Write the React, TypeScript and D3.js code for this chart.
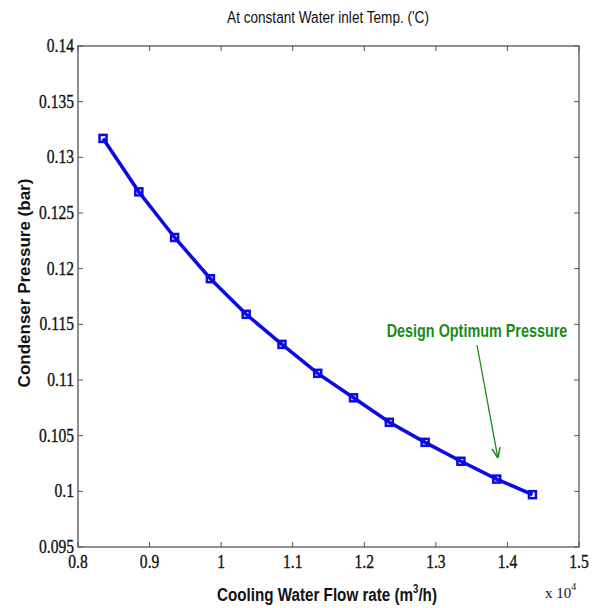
import * as d3 from "d3"

// cooling water flow rate (x 10^4 m3/h)
const flowRate = [0.835, 0.885, 0.935, 0.985, 1.035, 1.085, 1.135, 1.185, 1.235, 1.285, 1.335, 1.385, 1.435]
// condenser pressure (bar)
const pressure = [0.1317, 0.1269, 0.1228, 0.1191, 0.1159, 0.1132, 0.1106, 0.1084, 0.1062, 0.1044, 0.1027, 0.1011, 0.0997]
const xTicks = [0.8, 0.9, 1, 1.1, 1.2, 1.3, 1.4, 1.5]
const yTicks = [0.095, 0.1, 0.105, 0.11, 0.115, 0.12, 0.125, 0.13, 0.135, 0.14]
const designIndex = 11

const W = 599
const H = 608
const margin = { left: 78, right: 20, top: 46, bottom: 61 }

const sans = "Liberation Sans, Arial, sans-serif"
const serif = "Liberation Serif"
const green = "#1a8a1a"
const blue = "#0a0ae6"

// squeezed text to imitate the narrow font of the original
const Narrow = ({ x, y, k = 0.8, anchor = "middle", font = sans, children, ...rest }: any) => (
    <g transform={`translate(${x},${y}) scale(${k},1)`}>
        <text x={0} y={0} textAnchor={anchor} fontFamily={font} {...rest}>{children}</text>
    </g>
)

const App = () => {
    const x = d3.scaleLinear().domain([0.8, 1.5]).range([margin.left, W - margin.right])
    const y = d3.scaleLinear().domain([0.095, 0.14]).range([H - margin.bottom, margin.top])
    const line = d3.line<number>().x((_, i) => x(flowRate[i])).y(d => y(d))
    const x0 = x(0.8), x1 = x(1.5), y0 = y(0.095), y1 = y(0.14)
    const tick = 5
    const dx = x(flowRate[designIndex]), dy = y(pressure[designIndex])

    return (
        <svg width={W} height={H} style={{ position: "absolute", left: 0, top: 0, background: "#fff" }}>
            <defs>
                <marker id="arr" viewBox="0 0 10 10" refX="9" refY="5" markerWidth="8" markerHeight="10" orient="auto">
                    <path d="M0,1 L10,5 L0,9" fill="none" stroke={green} strokeWidth="1.5" />
                </marker>
            </defs>
            <Narrow x={328} y={23} k={0.8} fontSize={17} fill="#111">
                At constant Water inlet Temp. ('C)
            </Narrow>
            <rect x={x0} y={y1} width={x1 - x0} height={y0 - y1} fill="none" stroke="#555" strokeWidth={1.3} />
            {xTicks.map(t => (
                <g key={"x" + t}>
                    <line x1={x(t)} x2={x(t)} y1={y0} y2={y0 - tick} stroke="#555" />
                    <line x1={x(t)} x2={x(t)} y1={y1} y2={y1 + tick} stroke="#555" />
                    <Narrow x={x(t)} y={y0 + 21} k={0.82} font={serif} fontSize={19} fill="#111"
                        stroke="#111" strokeWidth={0.35}>{String(t)}</Narrow>
                </g>
            ))}
            {yTicks.map(t => (
                <g key={"y" + t}>
                    <line x1={x0} x2={x0 + tick} y1={y(t)} y2={y(t)} stroke="#555" />
                    <line x1={x1} x2={x1 - tick} y1={y(t)} y2={y(t)} stroke="#555" />
                    <Narrow x={x0 - 4} y={y(t) + 6} k={0.82} anchor="end" font={serif} fontSize={19} fill="#111"
                        stroke="#111" strokeWidth={0.35}>{String(t)}</Narrow>
                </g>
            ))}
            <text x={545} y={598} fontFamily={serif} fontSize={15} fill="#111">
                x 10<tspan dy={-8} fontSize={10}>4</tspan>
            </text>
            <Narrow x={327} y={601} k={0.8} fontWeight="bold" fontSize={19} fill="#111">
                Cooling Water Flow rate (m<tspan dy={-8} fontSize={12}>3</tspan><tspan dy={8}>/h)</tspan>
            </Narrow>
            <text transform={`translate(30,283) rotate(-90)`} textAnchor="middle"
                fontFamily={sans} fontWeight="bold" fontSize={17} fill="#111">
                Condenser Pressure (bar)
            </text>
            <path d={line(pressure) ?? ""} fill="none" stroke={blue} strokeWidth={3.5} />
            {pressure.map((p, i) => (
                <rect key={i} x={x(flowRate[i]) - 3.5} y={y(p) - 3.5} width={7} height={7}
                    fill="none" stroke={blue} strokeWidth={2.5} />
            ))}
            <Narrow x={477} y={337} k={0.8} fontWeight="bold" fontSize={18} fill={green}>
                Design Optimum Pressure
            </Narrow>
            <line x1={477} y1={345} x2={dx + 1} y2={dy - 22} stroke={green} strokeWidth={1.3} markerEnd="url(#arr)" />
        </svg>
    )
}

export default App
